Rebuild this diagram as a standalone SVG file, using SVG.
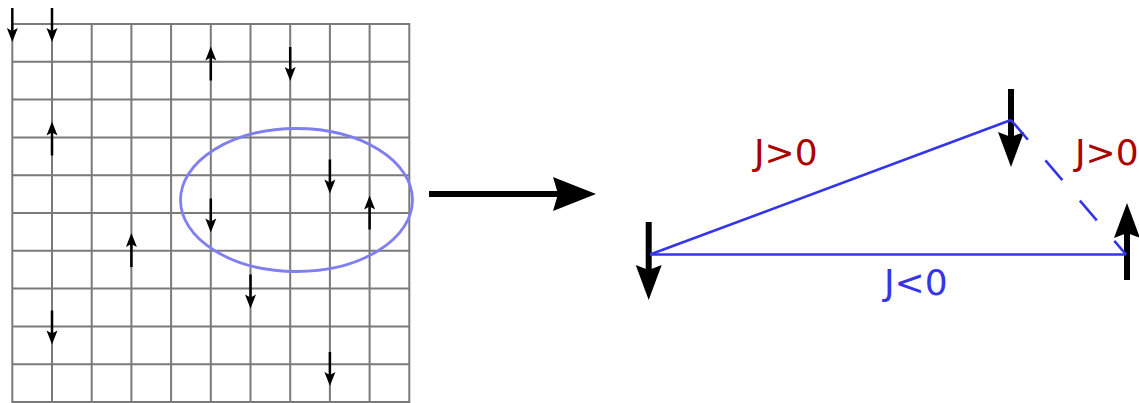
<svg xmlns="http://www.w3.org/2000/svg" xmlns:xlink="http://www.w3.org/1999/xlink" width="1139" height="403" viewBox="0 0 1139 403">
<style>
.grid{stroke:#7a7a7a;stroke-width:2;fill:none}
.sp{stroke:#000;stroke-width:2.5}
.bond{stroke:#3535e8;stroke-width:2.6;fill:none;stroke-linecap:butt}
.lbl{font-family:"DejaVu Sans",sans-serif;font-size:36px}
</style>
<defs>
<g id="down">
<line class="sp" x1="0" y1="0" x2="0" y2="24"/>
<polygon points="0,34 -5.5,20 0,23 5.5,20" fill="#000"/>
</g>
<g id="up">
<line class="sp" x1="0" y1="34" x2="0" y2="10"/>
<polygon points="0,0 -5.5,14 0,11 5.5,14" fill="#000"/>
</g>
<g id="bigdown">
<line stroke="#000" stroke-width="6" x1="0" y1="0" x2="0" y2="48"/>
<polygon points="0,78 -13,43 0,48 13,43" fill="#000"/>
</g>
<g id="bigup">
<line stroke="#000" stroke-width="6" x1="0" y1="77" x2="0" y2="30"/>
<polygon points="0,0 -13,35 0,30 13,35" fill="#000"/>
</g>
</defs>
<g id="lattice">
<rect class="grid" x="12.3" y="24" width="397" height="378"/>
<path class="grid" d="M52,24V402M91.7,24V402M131.4,24V402M171.1,24V402M210.8,24V402M250.5,24V402M290.2,24V402M329.9,24V402M369.6,24V402M12.3,61.8H409.3M12.3,99.6H409.3M12.3,137.4H409.3M12.3,175.2H409.3M12.3,213H409.3M12.3,250.8H409.3M12.3,288.6H409.3M12.3,326.4H409.3M12.3,364.2H409.3"/>
</g>
<g id="region">
<ellipse cx="296.5" cy="200" rx="116" ry="71.5" fill="none" stroke="#7f7ff0" stroke-width="2.8"/>
</g>
<g id="lattice-spins">
<use xlink:href="#down" x="12.3" y="8"/>
<use xlink:href="#down" x="52" y="8"/>
<use xlink:href="#up" x="210.8" y="46.5"/>
<use xlink:href="#down" x="290.2" y="47"/>
<use xlink:href="#up" x="52" y="121.5"/>
<use xlink:href="#down" x="329.9" y="159.5"/>
<use xlink:href="#up" x="369.6" y="195.5"/>
<use xlink:href="#down" x="210.8" y="198.5"/>
<use xlink:href="#up" x="131.4" y="233"/>
<use xlink:href="#down" x="250.5" y="274.5"/>
<use xlink:href="#down" x="52" y="310.5"/>
<use xlink:href="#down" x="329.9" y="352"/>
</g>
<g id="connectors">
<line x1="429" y1="194" x2="560" y2="194" stroke="#000" stroke-width="6"/>
<polygon points="596,194 553,177 558,194 553,211" fill="#000"/>
</g>
<g id="spin-left"><use xlink:href="#bigdown" x="648.7" y="222"/></g>
<g id="spin-top"><use xlink:href="#bigdown" x="1011" y="89"/></g>
<g id="spin-right"><use xlink:href="#bigup" x="1127" y="203"/></g>
<g id="bonds">
<line class="bond" x1="650" y1="254.5" x2="1011" y2="120"/>
<line class="bond" x1="650" y1="254.5" x2="1126" y2="254.5"/>
<line class="bond" x1="1011" y1="120" x2="1126" y2="254.5" stroke-dasharray="26 27"/>
</g>
<g id="labels">
<text class="lbl" x="754" y="165" fill="#aa0000">J&gt;0</text>
<text class="lbl" x="1075" y="165" fill="#aa0000">J&gt;0</text>
<text class="lbl" x="884" y="295" fill="#3535e8">J&lt;0</text>
</g>
</svg>
